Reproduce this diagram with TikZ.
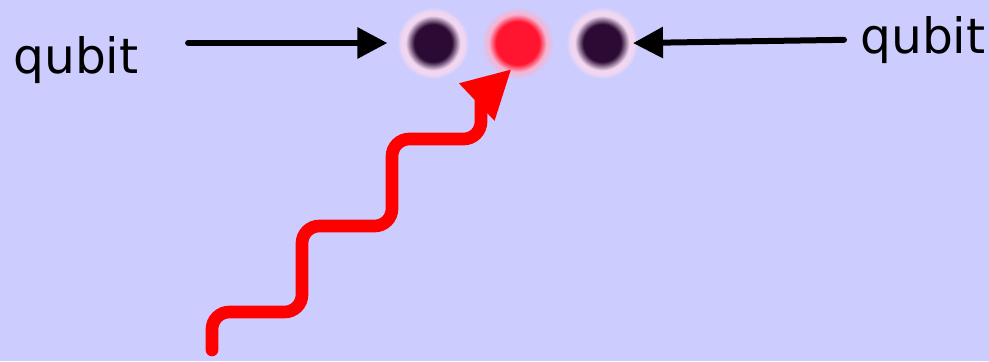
\documentclass[tikz,border=0pt]{standalone}
\usepackage{fontspec}
\setmainfont{DejaVu Sans}
\usetikzlibrary{arrows.meta,positioning}

\definecolor{qbg}{HTML}{CCCCFF}
\definecolor{qcore}{HTML}{2B0A33}
\definecolor{qhalo}{HTML}{F0D6F0}
\definecolor{hotcore}{HTML}{FF1530}
\definecolor{hothalo}{HTML}{F6B4D2}

% blurred ion spots: dark core, pale rim, fading into the background
% (tikz fits the inner 25bp radius to the node)
\pgfdeclareradialshading{qdot}{\pgfpoint{0bp}{0bp}}{color(0bp)=(qcore); color(13bp)=(qcore); color(19bp)=(qhalo); color(22bp)=(qhalo); color(25bp)=(qbg); color(50bp)=(qbg)}
\pgfdeclareradialshading{qhot}{\pgfpoint{0bp}{0bp}}{color(0bp)=(hotcore); color(15bp)=(hotcore); color(20bp)=(hothalo); color(22bp)=(hothalo!70!qbg); color(25bp)=(qbg); color(50bp)=(qbg)}

\begin{document}
\begin{tikzpicture}[x=0.75pt, y=-0.75pt,
    ion/.style={circle, inner sep=0pt, minimum size=54pt, shading=qdot},
    lbl/.style={inner sep=0pt, font=\fontsize{36.5}{40}\selectfont},
    ptr/.style={line width=4.5pt, line cap=round, -{Triangle[length=22.5pt, width=22.5pt]}},
    photon/.style={red, line width=9.5pt, line cap=round, rounded corners=13pt},
    photon tip/.style={red, line width=9.5pt, -{Triangle[length=36pt, width=36pt]}}]
    % pixel grid, y running down
    \fill[qbg] (0,0) rectangle (989,361);
    \useasboundingbox (0,0) rectangle (989,361);

    % the ion chain
    \node[ion] (qa) at (433,43) {};
    \node[ion, shading=qhot, right=9pt of qa] (qb) {};
    \node[ion, right=9pt of qb] (qc) {};

    \node[lbl, anchor=base west] (lq) at (13,73) {qubit};
    \node[lbl, anchor=base west] (rq) at (860,53) {qubit};

    \draw[ptr, shorten <=37pt, shorten >=7pt] (lq.east |- qa.west) -- (qa.west);
    \draw[ptr, shorten <=12pt, shorten >=-4pt] (rq.west) -- (qc.east);

    % incoming photon addressing the middle ion
    \coordinate (src) at (212,350);
    \coordinate (kink) at (481,98);
    \draw[photon] (src) -- (212,312) -- (302,312) -- (302,226) -- (392,226)
        -- (392,139) -- (481,139) -- (kink);
    \draw[photon tip] (kink) -- ([shift={(-6,26)}]qb.center);
\end{tikzpicture}
\end{document}
